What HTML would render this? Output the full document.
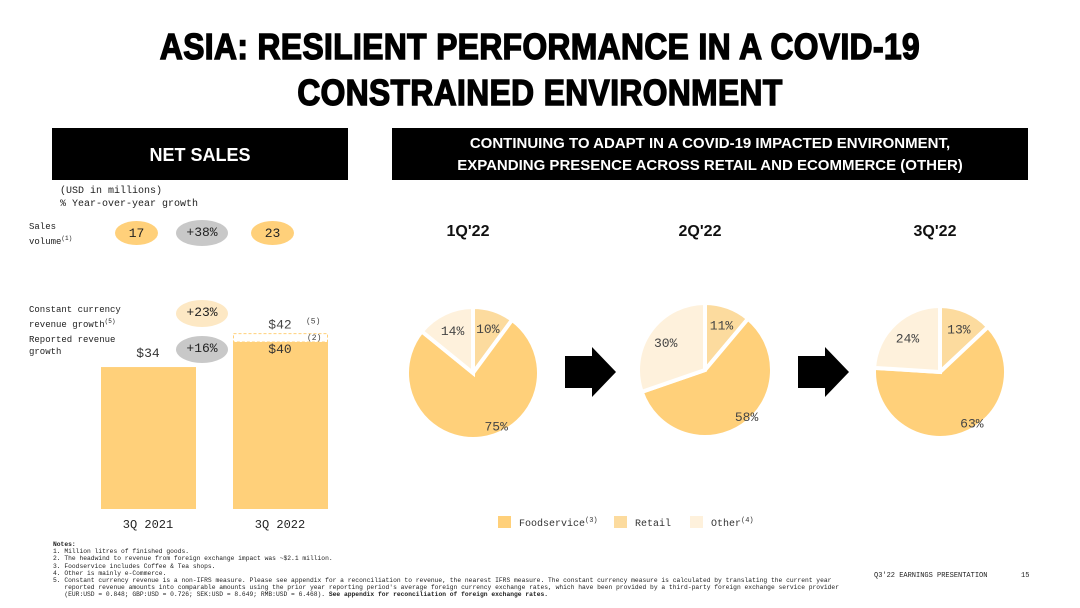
<!DOCTYPE html>
<html><head><meta charset="utf-8"><style>
body{margin:0;background:#fff;width:1080px;height:608px;overflow:hidden;position:relative;font-family:"Liberation Mono",monospace;color:#222}
.t{position:absolute;white-space:nowrap}
.h{font-family:"Liberation Sans",sans-serif;font-weight:bold}
.blob{position:absolute;border-radius:50%;text-align:center;font-size:13px;line-height:26px}
</style></head><body>
<div class="t h" style="left:0;width:1080px;top:24px;text-align:center;font-size:36px;line-height:46px;letter-spacing:0.5px;transform:scaleX(0.88);color:#000;-webkit-text-stroke:1.5px #000">ASIA: RESILIENT PERFORMANCE IN A COVID-19<br>CONSTRAINED ENVIRONMENT</div>
<div style="position:absolute;left:52px;top:128px;width:296px;height:52px;background:#000;color:#fff;text-align:center;font-family:'Liberation Sans',sans-serif;font-weight:bold;font-size:18px;line-height:54px">NET SALES</div>
<div style="position:absolute;left:392px;top:128px;width:636px;height:52px;background:#000;color:#fff;text-align:center;font-family:'Liberation Sans',sans-serif;font-weight:bold;font-size:15px;line-height:22px;padding-top:5px;box-sizing:border-box">CONTINUING TO ADAPT IN A COVID-19 IMPACTED ENVIRONMENT,<br>EXPANDING PRESENCE ACROSS RETAIL AND ECOMMERCE (OTHER)</div>
<div class="t" style="left:60px;top:185px;font-size:10px;line-height:13px">(USD in millions)<br>% Year-over-year growth</div>
<div class="t" style="left:29px;top:221px;font-size:9px;line-height:12px">Sales<br>volume<sup style="font-size:6px">(1)</sup></div>
<div class="blob" style="left:115px;top:221px;width:43px;height:24px;background:#FFD07A">17</div>
<div class="blob" style="left:176px;top:220px;width:52px;height:26px;background:#c8c8c8">+38%</div>
<div class="blob" style="left:251px;top:221px;width:43px;height:24px;background:#FFD07A">23</div>
<div class="t" style="left:29px;top:304px;font-size:9px;line-height:12px">Constant currency<br>revenue growth<sup style="font-size:6px">(5)</sup></div>
<div class="blob" style="left:176px;top:300px;width:52px;height:27px;background:#FDE8C4">+23%</div>
<div class="t" style="left:29px;top:334px;font-size:9px;line-height:12px">Reported revenue<br>growth</div>
<div class="blob" style="left:176px;top:336px;width:52px;height:27px;background:#c8c8c8">+16%</div>
<svg id="bars" width="1080" height="608" style="position:absolute;left:0;top:0"></svg>
<svg id="pies" width="1080" height="608" style="position:absolute;left:0;top:0"></svg>
<div class="t" style="left:53px;top:541px;font-size:6.3px;line-height:7.2px"><b>Notes:</b><br>1. Million litres of finished goods.<br>2. The headwind to revenue from foreign exchange impact was ~$2.1 million.<br>3. Foodservice includes Coffee &amp; Tea shops.<br>4. Other is mainly e-Commerce.<br>5. Constant currency revenue is a non-IFRS measure.  Please see appendix for a reconciliation to revenue, the nearest IFRS measure. The constant currency measure is calculated by translating the current year<br>&nbsp;&nbsp;&nbsp;reported revenue amounts into comparable amounts using the prior year reporting period's average foreign currency exchange rates, which have been provided by a third-party foreign exchange service provider<br>&nbsp;&nbsp;&nbsp;(EUR:USD = 0.848; GBP:USD = 0.726; SEK:USD = 8.649; RMB:USD = 6.468). <b>See appendix for reconciliation of foreign exchange rates.</b></div>
<div class="t" style="left:874px;top:572px;font-size:7px">Q3'22 EARNINGS PRESENTATION&nbsp;&nbsp;&nbsp;&nbsp;&nbsp;&nbsp;&nbsp;&nbsp;15</div>
<script>
const barCats=["3Q 2021","3Q 2022"];
const barVals=[34,40];
const ccVals=[null,42];
const NS='http://www.w3.org/2000/svg';
function mk(p,tag,a,txt){const e=document.createElementNS(NS,tag);for(const k in a)e.setAttribute(k,a[k]);if(txt!==undefined)e.textContent=txt;p.appendChild(e);return e;}
const bs=document.getElementById('bars');
const base=509,k=167/40;
const y=v=>base-v*k;const xb=i=>101+i*132;
barCats.forEach((c,i)=>{
 const r=mk(bs,'rect',{x:xb(i),y:y(barVals[i]),width:95,height:barVals[i]*k,fill:'#FFD07A'});
 
 
 if(ccVals[i]!=null){
  const d=mk(bs,'rect',{x:xb(i)+0.5,y:y(ccVals[i]),width:94,height:(ccVals[i]-barVals[i])*k,fill:'none',stroke:'#FFD07A','stroke-dasharray':'3,2'});
  
  
  const l=mk(bs,'text',{x:xb(i)+47,y:y(ccVals[i])-5,'text-anchor':'middle','font-size':13,'font-family':'Liberation Mono',fill:'#444'},'$'+ccVals[i]);
  
  
  mk(bs,'text',{x:xb(i)+73,y:y(ccVals[i])-10,'font-size':8,'font-family':'Liberation Mono',fill:'#444'},'(5)');
  mk(bs,'text',{x:xb(i)+74,y:y(barVals[i])-2,'font-size':8,'font-family':'Liberation Mono',fill:'#444'},'(2)');
 }
 const vl=mk(bs,'text',{x:xb(i)+47,y:(ccVals[i]!=null?y(barVals[i])+11:y(barVals[i])-10),'text-anchor':'middle','font-size':13,'font-family':'Liberation Mono',fill:'#333'},'$'+barVals[i]);
 
 
 const cl=mk(bs,'text',{x:xb(i)+47,y:528,'text-anchor':'middle','font-size':12,'font-family':'Liberation Mono',fill:'#222'},c);
 
 
});
const quarters=["1Q'22","2Q'22","3Q'22"];
const retail=[10,11,13];
const food=[75,58,63];
const other=[14,30,24];
const cols=['#FCDB9E','#FFD07A','#FEF1DC'];
const ps=document.getElementById('pies');
const cx=[473,705,940],cy=[373,370,372],R=[66,67,66];
quarters.forEach((q,i)=>{
 const t=mk(ps,'text',{x:cx[i]-5,y:236,'text-anchor':'middle','font-size':16,'font-weight':'bold','font-family':'Liberation Sans',fill:'#111'},q);
 
 
 const vals=[retail[i],food[i],other[i]];const tot=vals.reduce((a,b)=>a+b,0);
 let a0=0;
 vals.forEach((v,j)=>{
  const a1=a0+v/tot*2*Math.PI;
  const P=a=>[cx[i]+R[i]*Math.sin(a),cy[i]-R[i]*Math.cos(a)];
  const p0=P(a0),p1=P(a1);
  const s=mk(ps,'path',{d:`M${cx[i]},${cy[i]}L${p0[0]},${p0[1]}A${R[i]},${R[i]} 0 ${a1-a0>Math.PI?1:0} 1 ${p1[0]},${p1[1]}Z`,fill:cols[j],stroke:'#fff','stroke-width':4});
  
  
  const m=(a0+a1)/2,rr=j==1?0.62:0.72;
  const l=mk(ps,'text',{x:cx[i]+rr*R[i]*Math.sin(m)+(j==1?18:0),y:cy[i]-rr*R[i]*Math.cos(m)+5+(j==1?12:0),'text-anchor':'middle','font-size':13,'font-family':'Liberation Mono',fill:'#444'},v+'%');
  
  
  a0=a1;
 });
});
[565,798].forEach(x=>{
 const a=mk(ps,'path',{d:`M${x},356H${x+27}V347L${x+51},372L${x+27},397V388H${x}Z`,fill:'#000'});
 
 
});
const legNames=['Foodservice','Retail','Other'],legSup=['(3)','','(4)'],legCol=[cols[1],cols[0],cols[2]],legX=[498,614,690];
legNames.forEach((n,j)=>{
 const r=mk(ps,'rect',{x:legX[j],y:516,width:13,height:12,fill:legCol[j]});
 
 
 const t=mk(ps,'text',{x:legX[j]+21,y:526,'font-size':10,'font-family':'Liberation Mono',fill:'#333'},n);
 
 
 if(legSup[j])mk(ps,'text',{x:legX[j]+21+n.length*6,y:522,'font-size':7,'font-family':'Liberation Mono',fill:'#333'},legSup[j]);
});
</script>
</body></html>
